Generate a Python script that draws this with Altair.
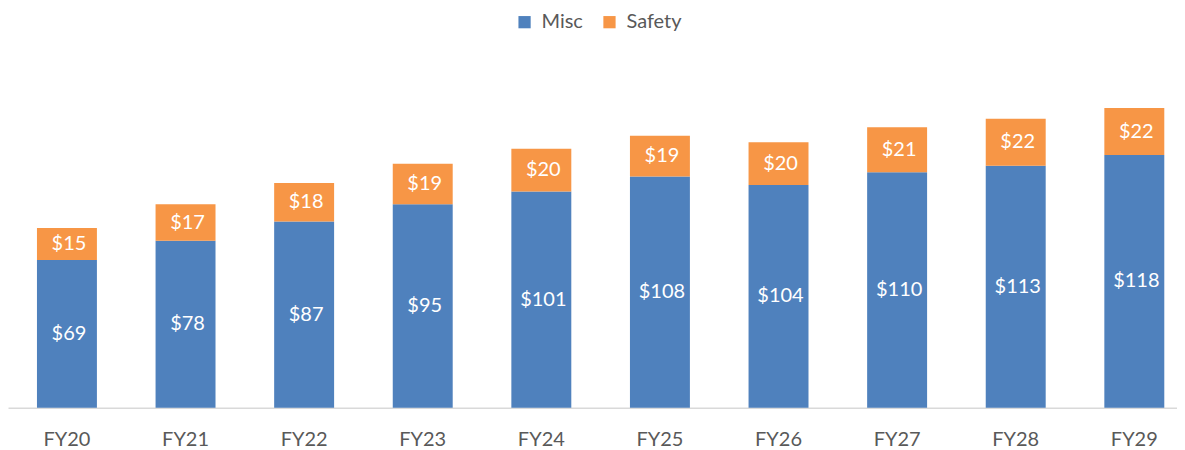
import altair as alt
import pandas as pd

years = ["FY20", "FY21", "FY22", "FY23", "FY24", "FY25", "FY26", "FY27", "FY28", "FY29"]
misc = [69, 78, 87, 95, 101, 108, 104, 110, 113, 118]
safety = [15, 17, 18, 19, 20, 19, 20, 21, 22, 22]
series = ["Misc", "Safety"]
colors = ["#4F81BD", "#F79646"]

rows = []
for i, y in enumerate(years):
    rows.append({"year": y, "series": "Misc", "order": 0, "value": misc[i]})
    rows.append({"year": y, "series": "Safety", "order": 1, "value": safety[i]})
df = pd.DataFrame(rows)

FONT = "Lato"

base = alt.Chart(df).transform_stack(
    stack="value", groupby=["year"], sort=[alt.SortField("order")], as_=["v0", "v1"]
).transform_calculate(
    mid="(datum.v0 + datum.v1) / 2",
    label="'$' + datum.value",
)

x = alt.X(
    "year:N",
    sort=years,
    title=None,
    scale=alt.Scale(paddingInner=0.4945, paddingOuter=0.1757, align=0.695),
    axis=alt.Axis(
        labelAngle=0,
        labelColor="#595959",
        labelFont=FONT,
        labelFontSize=20,
        labelPadding=22,
        ticks=False,
        domainColor="#D9D9D9",
        domainWidth=1.5,
        grid=False,
    ),
)
yscale = alt.Scale(domain=[0, 167], nice=False)

bars = base.mark_bar().encode(
    x=x,
    y=alt.Y("v0:Q", scale=yscale, axis=None, title=None),
    y2="v1:Q",
    color=alt.Color(
        "series:N",
        scale=alt.Scale(domain=series, range=colors),
        legend=alt.Legend(
            title=None,
            orient="none",
            direction="horizontal",
            legendX=507,
            legendY=-38,
            symbolType="square",
            symbolSize=150,
            symbolStrokeWidth=0,
            labelFont=FONT,
            labelFontSize=20,
            labelColor="#595959",
            columnPadding=16,
            labelOffset=7,
        ),
    ),
    order=alt.Order("order:Q"),
)

labels = base.mark_text(color="white", font=FONT, fontSize=20, dx=2).encode(
    x=alt.X("year:N", sort=years),
    y=alt.Y("mid:Q", scale=yscale),
    text="label:N",
)

chart = (
    alt.layer(bars, labels)
    .properties(
        width=1170,
        height=358,
        background="white",
        autosize=alt.AutoSizeParams(type="none"),
        padding={"left": 0, "top": 42, "right": 0, "bottom": 42},
    )
    .configure_view(strokeWidth=0)
)

chart.save("out.html", embed_options={"renderer": "svg", "actions": False})
